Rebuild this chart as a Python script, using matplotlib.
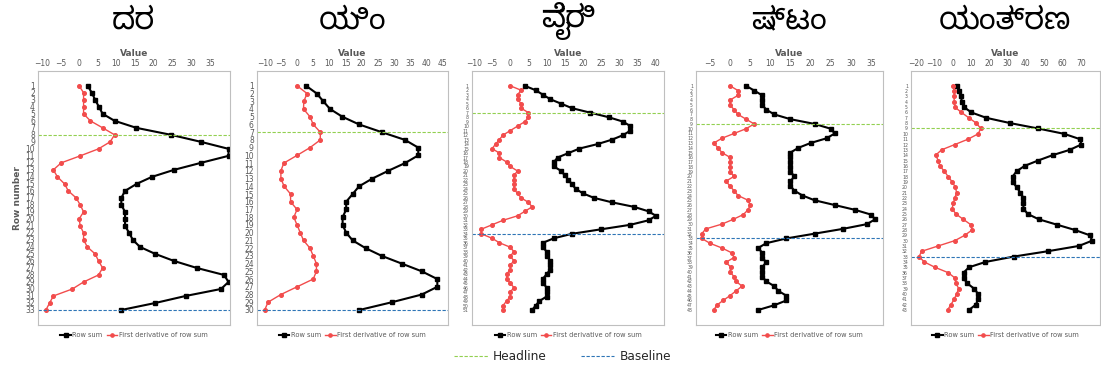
import numpy as np
import matplotlib
matplotlib.use('Agg')
from matplotlib import pyplot as plt
from matplotlib.lines import Line2D

# titles (Kannada)
titles = ['ದರ', 'ಯಿಂ', 'ವೈರಿ', 'ಷ್ಟಂ', 'ಯಂತ್ರಣ']

# row sums and first derivative
p1_sum = [2.3, 3.4, 4.3, 5.3, 6.3, 9.5, 15.3, 24.6, 32.6, 40, 40, 32.6, 25.4, 19.5, 15.4, 12.3, 11.3,
          11.3, 12.3, 12.3, 12.3, 13.4, 14.4, 16.3, 20.4, 25.4, 31.5, 38.8, 40, 38, 28.5, 20.4, 11.3]
p1_deriv = [0, 1.2, 1.2, 1.2, 1.2, 3, 6.3, 9.5, 8.3, 5.2, 0.3, -4.8, -6.9, -5.8, -3.9, -2.9, -0.8,
            0.3, 1.2, 0, 0.3, 1.2, 1.2, 2.2, 4.3, 5.2, 6.3, 5.2, 1.2, -1.8, -6.9, -7.9, -8.9]

p2_sum = [2.8, 6.1, 8.1, 10.2, 14, 19.2, 26.2, 33.4, 37.5, 37.5, 33.4, 28.2, 23.3, 19.2, 17.2,
          15.2, 15.2, 14.1, 14.1, 15.2, 17.2, 21.2, 26.2, 32.4, 38.6, 43.4, 43.4, 38.6, 29.3, 19.3]
p2_deriv = [0, 3.1, 2.1, 2, 4, 5, 7.2, 7.2, 4, 0, -4.1, -5, -5, -4, -2, -2, 0, -1, 0, 1, 2, 4, 5,
            6, 6, 5, 0, -5, -9, -10]

p3_sum = [4, 7, 9, 11, 14, 17, 22, 27, 31, 33, 33, 31, 28, 24, 19, 16, 13, 12, 12, 14, 15, 16, 17,
          18, 20, 23, 28, 34, 38, 40, 38, 33, 25, 17, 12, 9, 9, 10, 10, 11, 11, 11, 10, 9, 9, 10,
          10, 10, 8, 7, 6]
p3_deriv = [0, 3, 2, 2, 3, 3, 5, 5, 4, 2, 0, -2, -3, -4, -5, -3, -3, -1, 0, 2, 1, 1, 1, 1, 2, 3,
            5, 6, 4, 2, -2, -5, -8, -8, -5, -3, 0, 1, 0, 1, 0, 0, -1, -1, 0, 1, 0, 0, -1, -2, -2]

p4_sum = [4, 6, 8, 8, 8, 9, 11, 15, 21, 25, 26, 24, 20, 17, 15, 15, 15, 15, 15, 16, 15, 15, 16, 18,
          21, 26, 31, 35, 36, 34, 28, 21, 14, 9, 7, 8, 8, 9, 8, 8, 8, 9, 11, 12, 14, 14, 11, 7]
p4_deriv = [0, 2, 2, 0, 0, 1, 2, 4, 6, 4, 1, -2, -4, -3, -2, 0, 0, 0, 0, 1, -1, 0, 1, 2, 4.5, 5,
            4.5, 3.3, 0.8, -2, -6, -7, -7, -5, -2, 0.4, 1, -1, 0.2, 0, 1, 1.5, 3, 1.5, 0, -1.7,
            -3.3, -4]

p5_sum = [2.5, 3.6, 4.5, 5.2, 6.3, 10.3, 18.4, 31.6, 46.7, 60.9, 69.6, 70.3, 64, 54.6, 46.7, 39.4,
          35, 32.8, 32.8, 35, 37, 38.7, 38.7, 38.7, 41, 47, 56.8, 66.7, 74.9, 76.3, 69, 51.9, 33.3,
          18, 9, 6, 6, 8, 11.8, 14, 14, 12.7, 9]
p5_deriv = [0.4, 0.9, 0.9, 0.9, 1.3, 4.9, 8.9, 13, 15.4, 14, 8.5, 1.3, -6, -9.2, -7.8, -6.9, -4.5,
            -2.4, -0.2, 1.6, 2.2, 1.3, 0.4, -0.2, 1.8, 5.8, 9.9, 10.7, 6.7, 1.3, -7.8, -16.8,
            -18.3, -15.4, -9.6, -2.4, 1.3, 1.8, 3.4, 2.2, 0.9, -0.9, -2.7]

# headline / baseline row numbers
headline_rows = [8, 7, 7, 9, 9]
baseline_rows = [33, 30, 34, 33, 33]

# x ticks per panel
xticks_list = [range(-10, 36, 5), range(-10, 46, 5), range(-10, 41, 5), range(-5, 36, 5), range(-20, 71, 10)]

sums = [p1_sum, p2_sum, p3_sum, p4_sum, p5_sum]
derivs = [p1_deriv, p2_deriv, p3_deriv, p4_deriv, p5_deriv]

# panel geometry (figure fractions) and x limits
lefts = [0.0342, 0.2331, 0.4284, 0.6319, 0.8272]
widths = [0.1747, 0.1735, 0.1749, 0.1698, 0.1719]
xlims = [(-11.1, 40.4), (-12.5, 46.6), (-10.6, 42.3), (-8.5, 37.9), (-22.8, 80.5)]

grey = '#595959'
red = '#F24C4C'

fig = plt.figure(figsize=(11.01, 3.75), dpi=100)

for i in range(5):
    ax = fig.add_axes([lefts[i], 0.1333, widths[i], 0.678])
    rows = np.arange(1, len(sums[i]) + 1)
    n = len(rows)
    ax.plot(sums[i], rows, color='black', lw=1.5, marker='s', ms=3.2, label='Row sum')
    ax.plot(derivs[i], rows, color=red, lw=1.0, marker='o', ms=2.6, label='First derivative of row sum')
    ax.axhline(headline_rows[i], color='#92D050', lw=0.8, ls='--', dashes=(3, 1.5))
    ax.axhline(baseline_rows[i], color='#2E75B6', lw=0.8, ls='--', dashes=(3, 1.5))

    pad = 0.067 * (n - 1)
    ax.set_ylim(n + pad, 1 - pad)
    ax.set_xlim(*xlims[i])
    ax.set_xticks(list(xticks_list[i]))
    ax.xaxis.tick_top()
    ax.xaxis.set_label_position('top')
    ax.set_xlabel('Value', fontsize=6.5, color=grey, fontweight='bold', labelpad=2)
    ax.set_yticks(rows)
    ax.set_yticklabels([str(r) for r in rows], fontsize=5.5 if n < 40 else 3.3)
    ax.tick_params(axis='x', labelsize=5.5, colors=grey, length=0, pad=2)
    ax.tick_params(axis='y', colors=grey, length=0, pad=2)
    for s in ax.spines.values():
        s.set_color('#BFBFBF')
        s.set_linewidth(0.8)
    if i == 0:
        ax.set_ylabel('Row number', fontsize=6.5, color=grey, fontweight='bold', labelpad=2)

    ax.legend(loc='upper center', bbox_to_anchor=(0.5, -0.005), ncol=2, frameon=False,
              fontsize=4.8, handlelength=1.6, handletextpad=0.2, columnspacing=0.6,
              labelcolor=grey, markerscale=0.9)

    fig.text(lefts[i] + widths[i] / 2, 0.945, titles[i], ha='center', va='center',
             fontsize=22, family=['Noto Sans Kannada', 'DejaVu Sans'])

# shared legend for the dashed lines
handles = [Line2D([], [], color='#92D050', lw=0.8, ls='--', dashes=(3, 1.5)),
           Line2D([], [], color='#2E75B6', lw=0.8, ls='--', dashes=(3, 1.5))]
fig.legend(handles, ['Headline', 'Baseline'], loc='center', bbox_to_anchor=(0.511, 0.048), ncol=2,
           frameon=False, fontsize=8.7, handlelength=2.8, handletextpad=0.4, columnspacing=2.8,
           labelcolor='#262626')

fig.savefig('out.png', dpi=100)
